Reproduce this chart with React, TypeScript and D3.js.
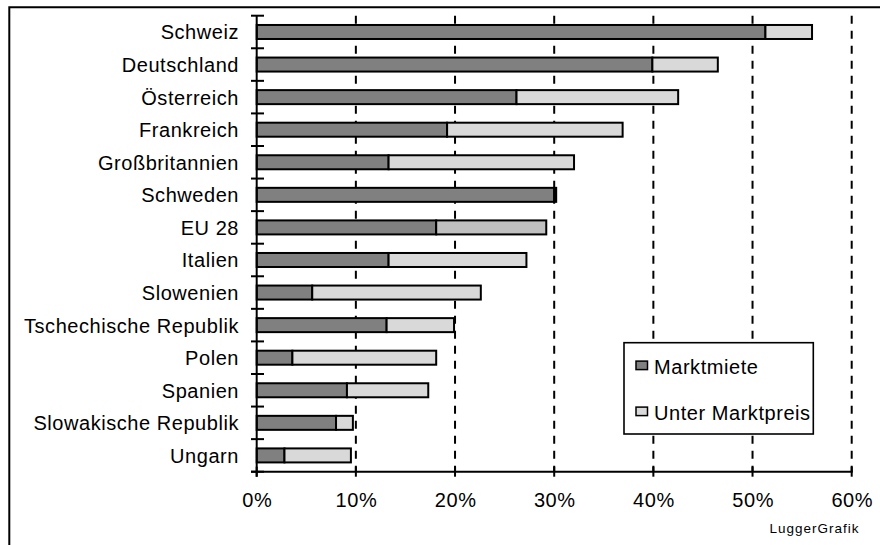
import React from "react";
import * as d3 from "d3";

// Wohnkosten-Anteil: Marktmiete vs. unter Marktpreis (in %)
const countries = [
  "Schweiz",
  "Deutschland",
  "Österreich",
  "Frankreich",
  "Großbritannien",
  "Schweden",
  "EU 28",
  "Italien",
  "Slowenien",
  "Tschechische Republik",
  "Polen",
  "Spanien",
  "Slowakische Republik",
  "Ungarn",
];
const marktmiete = [51.3, 39.9, 26.2, 19.2, 13.3, 30.0, 18.1, 13.3, 5.6, 13.1, 3.6, 9.1, 8.0, 2.8];
const unterMarktpreis = [4.7, 6.6, 16.3, 17.7, 18.7, 0.2, 11.1, 13.9, 17.0, 6.8, 14.5, 8.2, 1.7, 6.7];
const xTicks = [0, 10, 20, 30, 40, 50, 60];
const seriesNames = ["Marktmiete", "Unter Marktpreis"];

const W = 880;
const H = 545;
const FONT = "'Liberation Sans', Arial, sans-serif";
const DARK = "#808080";
const LIGHT = "#d9d9d9";
const LIGHT_EU = "#c0c0c0";

export default function App() {
  const left = 256.7;
  const right = 851.7;
  const top = 15.7;
  const bottom = 471.7;

  const x = d3.scaleLinear().domain([0, 60]).range([left, right]);
  const y = d3
    .scaleBand<string>()
    .domain(countries)
    .range([top, bottom])
    .paddingInner(0.57)
    .paddingOuter(0.285);
  const step = y.step();

  const rows = countries.map((c, i) => ({
    name: c,
    a: marktmiete[i],
    b: unterMarktpreis[i],
  }));

  const textStyle = { fontFamily: FONT, fontSize: 20, letterSpacing: "0.55px" } as const;

  return (
    <svg
      width={W}
      height={H}
      style={{ position: "absolute", left: 0, top: 0, background: "#fff" }}
    >
      <rect x={0} y={0} width={W} height={H} fill="#fff" />
      {/* outer frame */}
      <path d={`M9.3,${H + 2} V7.3 H${W + 2}`} fill="none" stroke="#000" strokeWidth={2} />

      {/* dashed gridlines */}
      {xTicks.slice(1).map((t) => (
        <line
          key={"g" + t}
          x1={x(t)}
          x2={x(t)}
          y1={top}
          y2={bottom}
          stroke="#000"
          strokeWidth={2}
          strokeDasharray="8,7"
        />
      ))}

      {/* bars */}
      {rows.map((r) => {
        const yy = y(r.name)!;
        const h = y.bandwidth();
        return (
          <g key={r.name}>
            <rect
              x={x(0)}
              y={yy}
              width={x(r.a) - x(0)}
              height={h}
              fill={DARK}
              stroke="#000"
              strokeWidth={2}
            />
            <rect
              x={x(r.a)}
              y={yy}
              width={x(r.a + r.b) - x(r.a)}
              height={h}
              fill={r.name === "EU 28" ? LIGHT_EU : LIGHT}
              stroke="#000"
              strokeWidth={2}
            />
            <text
              x={239}
              y={yy + h / 2 + 7.5}
              textAnchor="end"
              style={textStyle}
              fill="#000"
            >
              {r.name}
            </text>
          </g>
        );
      })}

      {/* y axis with cross ticks on category boundaries */}
      <line x1={left} x2={left} y1={top} y2={bottom + 5} stroke="#000" strokeWidth={2} />
      {d3.range(countries.length + 1).map((k) => (
        <line
          key={"yt" + k}
          x1={251}
          x2={264}
          y1={top + k * step}
          y2={top + k * step}
          stroke="#000"
          strokeWidth={2}
        />
      ))}

      {/* x axis */}
      <line x1={251} x2={right + 1} y1={bottom} y2={bottom} stroke="#000" strokeWidth={2} />
      {xTicks.map((t) => (
        <g key={"xt" + t}>
          <line x1={x(t)} x2={x(t)} y1={bottom - 5} y2={bottom + 5} stroke="#000" strokeWidth={2} />
          <text
            x={x(t) + 0.6}
            y={507}
            textAnchor="middle"
            style={textStyle}
            fill="#000"
          >
            {t}%
          </text>
        </g>
      ))}

      {/* legend */}
      <rect x={624} y={342.7} width={189.3} height={91.3} fill="#fff" stroke="#000" strokeWidth={1.6} />
      {seriesNames.map((s, i) => {
        const cy = 365.3 + i * 46;
        return (
          <g key={s}>
            <rect
              x={636}
              y={cy - 4.2}
              width={11.5}
              height={8.5}
              fill={i === 0 ? DARK : LIGHT}
              stroke="#000"
              strokeWidth={1.5}
            />
            <text x={654} y={cy + 8.7} style={textStyle} fill="#000">
              {s}
            </text>
          </g>
        );
      })}

      {/* credit */}
      <text
        x={859.5}
        y={532.7}
        textAnchor="end"
        style={{ fontFamily: FONT, fontSize: 13.5, letterSpacing: "1px" }}
        fill="#000"
      >
        LuggerGrafik
      </text>
    </svg>
  );
}
